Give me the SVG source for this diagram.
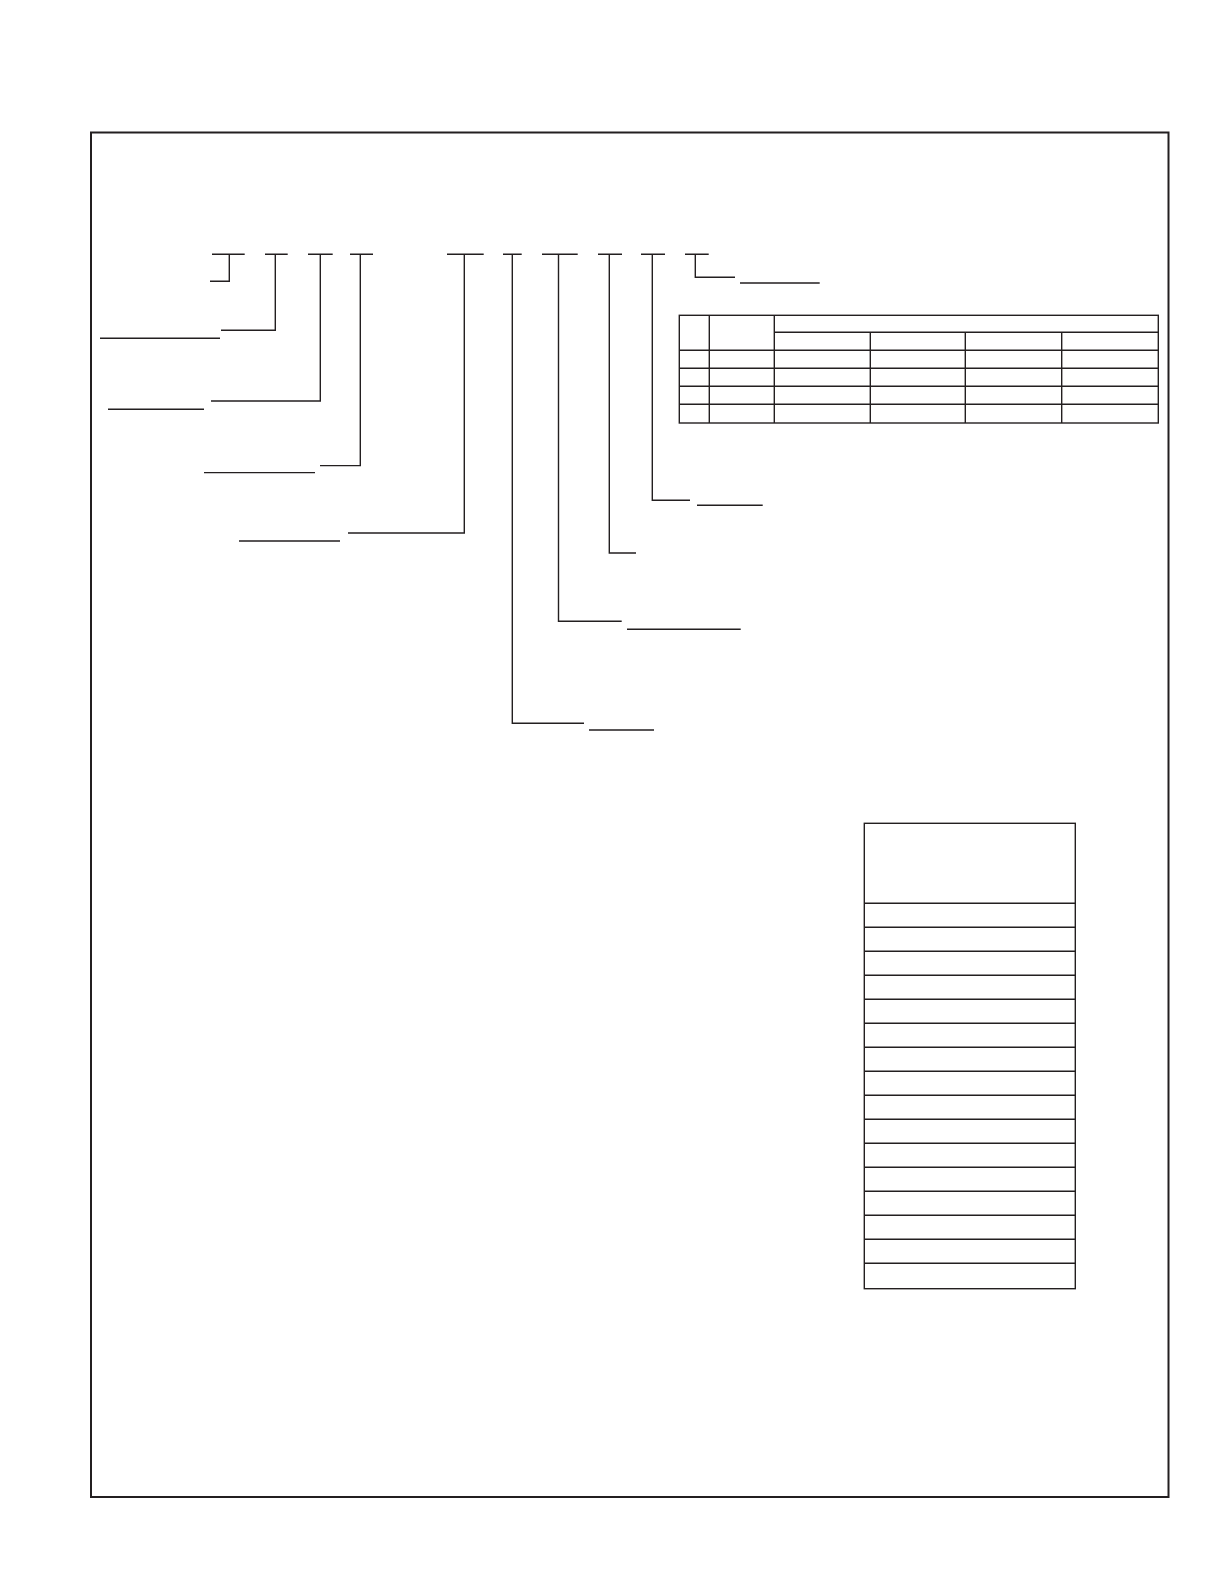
<svg xmlns="http://www.w3.org/2000/svg" width="1224" height="1584" viewBox="0 0 1224 1584">
<style>
.ln{fill:none;stroke:#231f20;stroke-width:1.4}
.fr{fill:none;stroke:#231f20;stroke-width:2}
</style>
<rect width="1224" height="1584" fill="#fff"/>
<g id="frame"><rect class="fr" x="91" y="132.5" width="1077.5" height="1364.5"/></g>
<g id="connectors" class="ln">
<!-- top short bars -->
<path d="M212 254.3H244.7M265 254.3H287.7M308 254.3H332.7M350 254.3H373M447 254.3H483.7M503 254.3H521.7M542 254.3H577.7M598 254.3H622M641 254.3H665M685 254.3H708.7"/>
<!-- seg1 -->
<path d="M229.3 254.3V281.3H210"/>
<!-- seg2 -->
<path d="M275.3 254.3V330.3H221M100 338.3H220"/>
<!-- seg3 -->
<path d="M320.3 254.3V401H211M108 409.3H204"/>
<!-- seg4 -->
<path d="M360.3 254.3V465.6H320M204 472.6H315"/>
<!-- seg5 -->
<path d="M464.3 254.3V533H348M239 541H340"/>
<!-- seg6 -->
<path d="M512.3 254.3V723.3H584M589 730H654"/>
<!-- seg7 -->
<path d="M558.5 254.3V621.3H621.7M627 629.3H740.7"/>
<!-- seg8 -->
<path d="M609.3 254.3V553H636"/>
<!-- seg9 -->
<path d="M652.3 254.3V500.2H690M697 505.2H762.7"/>
<!-- seg10 -->
<path d="M695.3 254.3V277.3H735M740 283H819.7"/>
</g>
<g id="table-top" class="ln">
<rect x="679.3" y="315.3" width="479" height="107.7"/>
<path d="M709.3 315.3V423M774.3 315.3V423M870.3 332.3V423M965.3 332.3V423M1061.7 332.3V423"/>
<path d="M774.3 332.3H1158.3M679.3 350.3H1158.3M679.3 368.3H1158.3M679.3 386.3H1158.3M679.3 404.3H1158.3"/>
</g>
<g id="table-right" class="ln">
<rect x="864.3" y="823.3" width="211" height="465.4"/>
<path d="M864.3 903.3H1075.3M864.3 927.3H1075.3M864.3 951.3H1075.3M864.3 975.3H1075.3M864.3 999.3H1075.3M864.3 1023.3H1075.3M864.3 1047.3H1075.3M864.3 1071.3H1075.3M864.3 1095.3H1075.3M864.3 1119.3H1075.3M864.3 1143.3H1075.3M864.3 1167.3H1075.3M864.3 1191.3H1075.3M864.3 1215.3H1075.3M864.3 1239.3H1075.3M864.3 1263.3H1075.3"/>
</g>
</svg>
